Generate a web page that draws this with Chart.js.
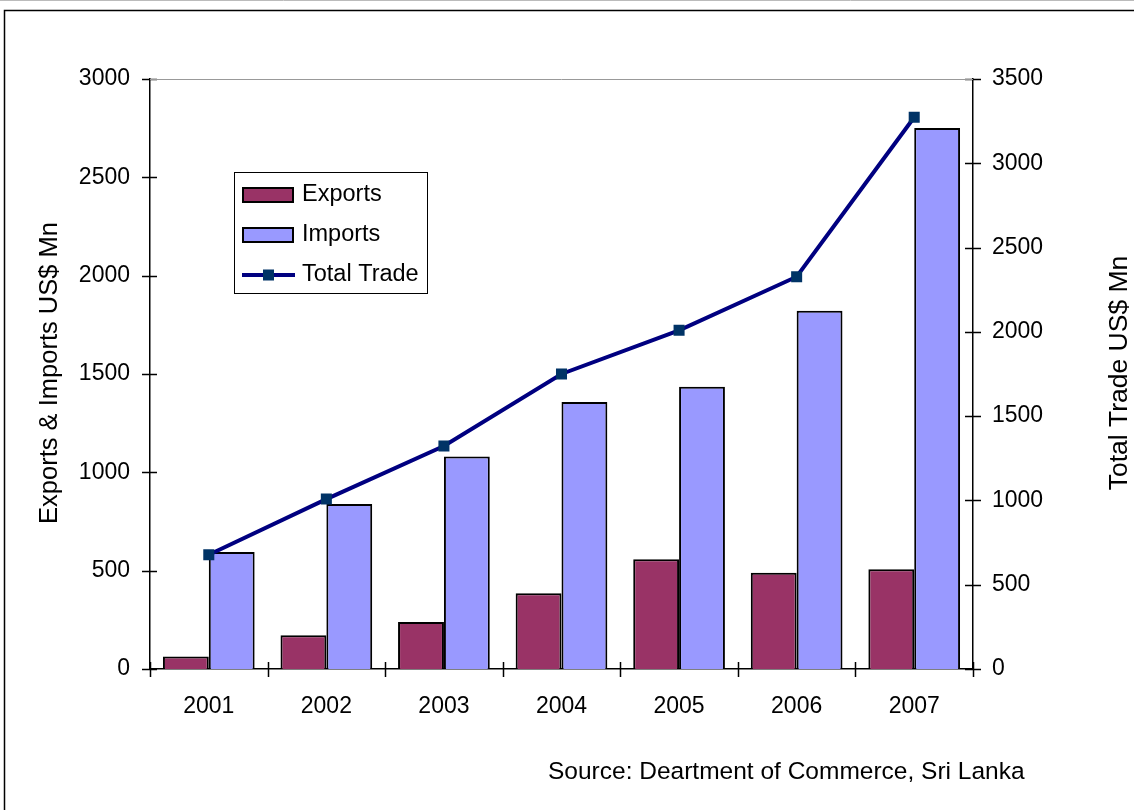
<!DOCTYPE html>
<html>
<head>
<meta charset="utf-8">
<script src="https://cdn.jsdelivr.net/npm/chart.js@4/dist/chart.umd.min.js"></script>
<style>
  html, body { margin: 0; padding: 0; background: #fff; }
  #trade { display: block; }
</style>
</head>
<body>
<canvas id="trade" width="1134" height="810"></canvas>
<script>
const years       = ['2001', '2002', '2003', '2004', '2005', '2006', '2007'];
const exportsMn   = [63, 171, 239, 385, 558, 490, 507];
const importsMn   = [595, 839, 1080, 1357, 1435, 1822, 2751];
const totalTrade  = [678, 1008, 1323, 1750, 2009, 2327, 3273];
const leftRange   = [0, 3000];
const rightRange  = [0, 3500];
const tickStep    = 500;

const FONT = '"Liberation Sans", Arial, sans-serif';
const font = { family: FONT, size: 23 };
const plain = v => String(v);   // no thousands separator

// cross ticks on all three axes (half outside, half inside the plot)
const crossTicks = {
  id: 'crossTicks',
  afterDatasetsDraw(chart) {
    const { ctx, chartArea: a, scales } = chart;
    ctx.save();
    ctx.strokeStyle = '#000';
    ctx.lineWidth = 1.5;
    ctx.beginPath();
    scales.y.ticks.forEach(t => {
      const y = Math.round(scales.y.getPixelForValue(t.value)) + 0.5;
      ctx.moveTo(a.left - 8, y); ctx.lineTo(a.left + 7, y);
    });
    scales.y1.ticks.forEach(t => {
      const y = Math.round(scales.y1.getPixelForValue(t.value)) + 0.5;
      ctx.moveTo(a.right - 8, y); ctx.lineTo(a.right + 8, y);
    });
    const half = (scales.x.getPixelForValue(1) - scales.x.getPixelForValue(0)) / 2;
    for (let i = 0; i <= years.length; i++) {
      const x = Math.round(scales.x.getPixelForValue(i) - half) + 0.5;
      ctx.moveTo(x, a.bottom - 7); ctx.lineTo(x, a.bottom + 8);
    }
    ctx.stroke();
    // light top edge of the plot area
    ctx.strokeStyle = '#999';
    ctx.lineWidth = 1;
    ctx.beginPath();
    ctx.moveTo(a.left, a.top + 0.5); ctx.lineTo(a.right, a.top + 0.5);
    ctx.stroke();
    ctx.restore();
  }
};

// axis titles, boxed legend, source note and outer frame
const decorations = {
  id: 'decorations',
  afterDraw(chart) {
    const { ctx, chartArea: a } = chart;
    const midY = (a.top + a.bottom) / 2;
    ctx.save();
    ctx.fillStyle = '#000';
    ctx.textAlign = 'center';
    ctx.textBaseline = 'middle';
    [[50, 25.5, 'Exports & Imports US$ Mn'], [1120, 26.5, 'Total Trade US$ Mn']].forEach(([x, size, txt]) => {
      ctx.save();
      ctx.font = `${size}px ${FONT}`;
      ctx.translate(x, midY - 1);
      ctx.rotate(-Math.PI / 2);
      ctx.fillText(txt, 0, 0);
      ctx.restore();
    });

    ctx.textAlign = 'left';
    ctx.font = `24.5px ${FONT}`;
    ctx.fillText('Source: Deartment of Commerce, Sri Lanka', 548, 772);

    // legend
    ctx.lineWidth = 1;
    ctx.strokeStyle = '#000';
    ctx.strokeRect(234.5, 172.5, 193, 121);
    const ds = chart.data.datasets;
    ctx.font = `23.5px ${FONT}`;
    [[0, 195], [1, 235]].forEach(([i, y]) => {
      ctx.fillStyle = ds[i].backgroundColor;
      ctx.fillRect(243, y - 7, 50, 14);
      ctx.lineWidth = 2;
      ctx.strokeRect(243, y - 7, 50, 14);
      ctx.fillStyle = '#000';
      ctx.fillText(ds[i].label, 302, y);
    });
    const ly = 275;
    ctx.strokeStyle = ds[2].borderColor;
    ctx.lineWidth = 4;
    ctx.beginPath();
    ctx.moveTo(242, ly); ctx.lineTo(295, ly);
    ctx.stroke();
    ctx.fillStyle = ds[2].pointBackgroundColor;
    ctx.fillRect(263, ly - 5.5, 11, 11);
    ctx.fillStyle = '#000';
    ctx.fillText(ds[2].label, 302, ly);

    // frame
    ctx.strokeStyle = '#000';
    ctx.lineWidth = 1.5;
    ctx.strokeRect(4.5, 10.5, 1300, 1000);
    ctx.strokeStyle = '#bbb';
    ctx.lineWidth = 1;
    ctx.beginPath();
    ctx.moveTo(0, 0.5); ctx.lineTo(1134, 0.5);
    ctx.stroke();
    ctx.restore();
  }
};

new Chart(document.getElementById('trade'), {
  type: 'bar',
  data: {
    labels: years,
    datasets: [
      {
        label: 'Exports',
        data: exportsMn,
        backgroundColor: '#993366',
        borderColor: '#000',
        borderWidth: 2,
        yAxisID: 'y',
        order: 1,
        barPercentage: 1,
        categoryPercentage: 0.78
      },
      {
        label: 'Imports',
        data: importsMn,
        backgroundColor: '#9999ff',
        borderColor: '#000',
        borderWidth: 2,
        yAxisID: 'y',
        order: 1,
        barPercentage: 1,
        categoryPercentage: 0.78
      },
      {
        type: 'line',
        label: 'Total Trade',
        data: totalTrade,
        borderColor: '#000080',
        borderWidth: 4,
        pointStyle: 'rect',
        pointRadius: 7.8,
        pointBorderWidth: 0,
        pointBackgroundColor: '#003366',
        tension: 0,
        yAxisID: 'y1',
        order: 0
      }
    ]
  },
  options: {
    responsive: false,
    animation: false,
    layout: { padding: { top: 79, left: 0, right: 0, bottom: 0 } },
    plugins: { legend: { display: false }, tooltip: { enabled: false } },
    scales: {
      x: {
        offset: true,
        grid: { display: false },
        border: { color: '#000', width: 1.5 },
        ticks: { font, color: '#000', padding: 16 },
        afterFit(s) { s.height = 141; }
      },
      y: {
        position: 'left',
        min: leftRange[0],
        max: leftRange[1],
        grid: { display: false },
        border: { color: '#000', width: 1.5 },
        ticks: { stepSize: tickStep, font, color: '#000', padding: 12, callback: plain },
        afterFit(s) { s.width = 150; }
      },
      y1: {
        position: 'right',
        min: rightRange[0],
        max: rightRange[1],
        grid: { display: false },
        border: { color: '#000', width: 1.5 },
        ticks: { stepSize: tickStep, font, color: '#000', padding: 11, callback: plain },
        afterFit(s) { s.width = 161; }
      }
    }
  },
  plugins: [crossTicks, decorations]
});
</script>
</body>
</html>
